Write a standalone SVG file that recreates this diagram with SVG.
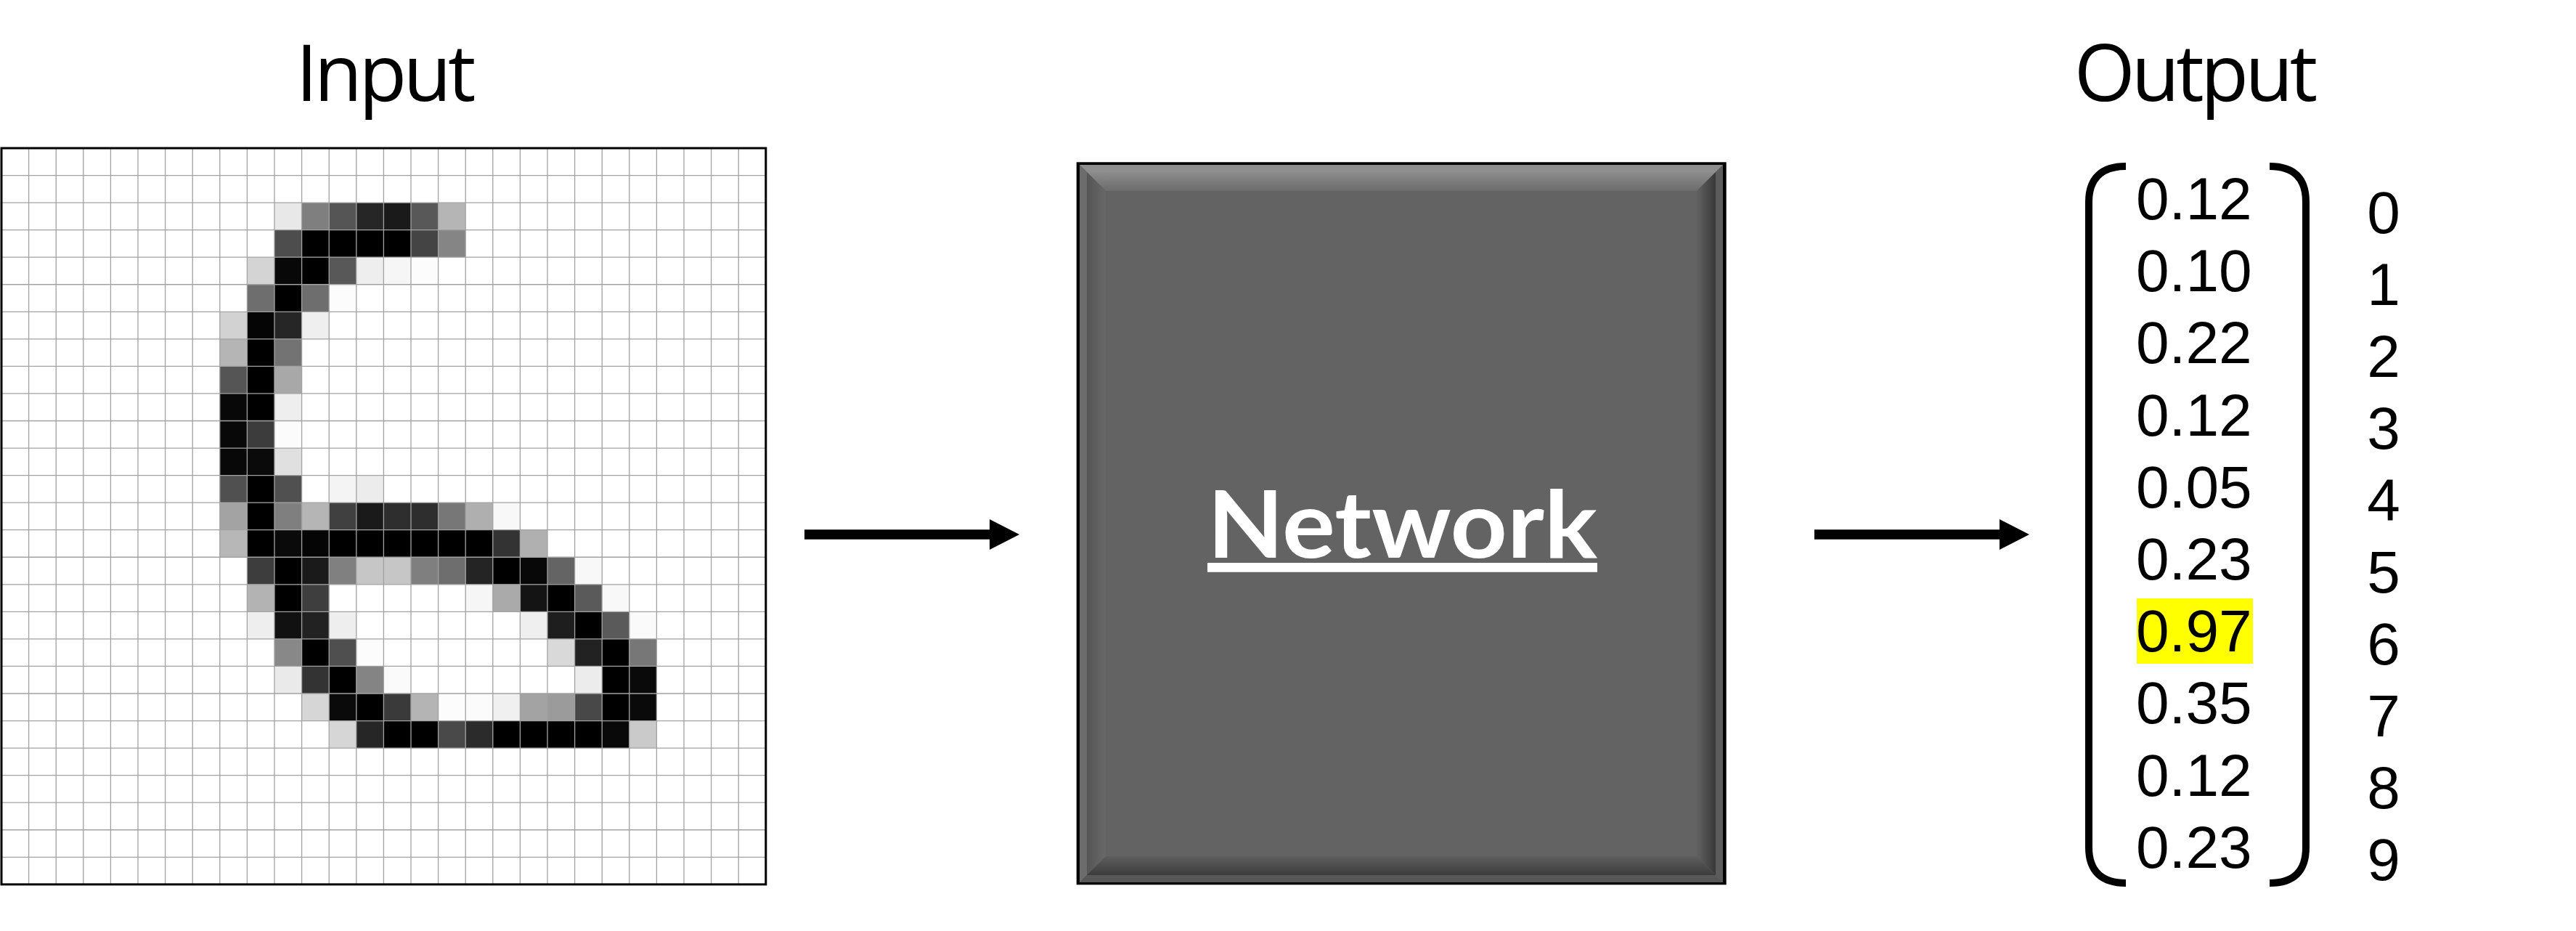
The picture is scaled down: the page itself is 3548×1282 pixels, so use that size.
<svg xmlns="http://www.w3.org/2000/svg" width="3548" height="1282" viewBox="0 0 3548 1282">
<style>
.title{font-family:"Open Sans","Noto Sans",sans-serif;font-size:108px;fill:#000;text-anchor:middle;letter-spacing:-4.8px}
.val{font-family:"Liberation Sans",Arial,sans-serif;font-size:82px;fill:#000}
.lab{font-family:"Liberation Sans",Arial,sans-serif;font-size:82px;fill:#000;text-anchor:middle}
.grid{fill:none;stroke:#a2a2a2;stroke-width:1.3}
.brk{fill:none;stroke:#000;stroke-width:10}
.conn{stroke:#000;stroke-width:13.5;fill:none}
</style>
<defs>
<marker id="ah" markerUnits="userSpaceOnUse" markerWidth="42" markerHeight="42" refX="0" refY="21" orient="auto" viewBox="0 0 42 42"><path d="M0,0 L41,21 L0,42 Z" fill="#000"/></marker>
<linearGradient id="gTop" x1="0" y1="0" x2="0" y2="1"><stop offset="0" stop-color="#8c8c8c"/><stop offset="1" stop-color="#6c6c6c"/></linearGradient>
<linearGradient id="gLeft" x1="0" y1="0" x2="1" y2="0"><stop offset="0" stop-color="#555"/><stop offset="1" stop-color="#686868"/></linearGradient>
<linearGradient id="gRight" x1="1" y1="0" x2="0" y2="0"><stop offset="0" stop-color="#383838"/><stop offset="1" stop-color="#626262"/></linearGradient>
<linearGradient id="gBot" x1="0" y1="1" x2="0" y2="0"><stop offset="0" stop-color="#3c3c3c"/><stop offset="1" stop-color="#5e5e5e"/></linearGradient>
</defs>
<rect width="3548" height="1282" fill="#fff"/>

<g id="input">
<text class="title" x="529" y="139">Input</text>
<g transform="translate(2,204) scale(37.6,37.55)">
<rect x="10" y="2" width="1" height="1" fill="#e8e8e8"/><rect x="11" y="2" width="1" height="1" fill="#7f7f7f"/><rect x="12" y="2" width="1" height="1" fill="#555"/><rect x="13" y="2" width="1" height="1" fill="#262626"/><rect x="14" y="2" width="1" height="1" fill="#1a1a1a"/><rect x="15" y="2" width="1" height="1" fill="#585858"/><rect x="16" y="2" width="1" height="1" fill="#b5b5b5"/>
<rect x="10" y="3" width="1" height="1" fill="#4d4d4d"/><rect x="11" y="3" width="4" height="1" fill="#000"/><rect x="15" y="3" width="1" height="1" fill="#444"/><rect x="16" y="3" width="1" height="1" fill="#858585"/>
<rect x="9" y="4" width="1" height="1" fill="#d4d4d4"/><rect x="10" y="4" width="1" height="1" fill="#080808"/><rect x="11" y="4" width="1" height="1" fill="#000"/><rect x="12" y="4" width="1" height="1" fill="#585858"/><rect x="13" y="4" width="1" height="1" fill="#eee"/><rect x="14" y="4" width="1" height="1" fill="#f6f6f6"/><rect x="15" y="4" width="1" height="1" fill="#fcfcfc"/>
<rect x="9" y="5" width="1" height="1" fill="#6e6e6e"/><rect x="10" y="5" width="1" height="1" fill="#000"/><rect x="11" y="5" width="1" height="1" fill="#6e6e6e"/><rect x="12" y="5" width="1" height="1" fill="#fcfcfc"/>
<rect x="8" y="6" width="1" height="1" fill="#d2d2d2"/><rect x="9" y="6" width="1" height="1" fill="#050505"/><rect x="10" y="6" width="1" height="1" fill="#262626"/><rect x="11" y="6" width="1" height="1" fill="#efefef"/>
<rect x="8" y="7" width="1" height="1" fill="#b5b5b5"/><rect x="9" y="7" width="1" height="1" fill="#000"/><rect x="10" y="7" width="1" height="1" fill="#737373"/>
<rect x="8" y="8" width="1" height="1" fill="#555"/><rect x="9" y="8" width="1" height="1" fill="#000"/><rect x="10" y="8" width="1" height="1" fill="#a8a8a8"/>
<rect x="8" y="9" width="1" height="1" fill="#080808"/><rect x="9" y="9" width="1" height="1" fill="#000"/><rect x="10" y="9" width="1" height="1" fill="#eee"/>
<rect x="8" y="10" width="1" height="1" fill="#080808"/><rect x="9" y="10" width="1" height="1" fill="#3c3c3c"/><rect x="10" y="10" width="1" height="1" fill="#fbfbfb"/>
<rect x="8" y="11" width="1" height="1" fill="#080808"/><rect x="9" y="11" width="1" height="1" fill="#0a0a0a"/><rect x="10" y="11" width="1" height="1" fill="#e0e0e0"/>
<rect x="8" y="12" width="1" height="1" fill="#505050"/><rect x="9" y="12" width="1" height="1" fill="#000"/><rect x="10" y="12" width="1" height="1" fill="#505050"/><rect x="12" y="12" width="1" height="1" fill="#f4f4f4"/><rect x="13" y="12" width="1" height="1" fill="#ececec"/>
<rect x="8" y="13" width="1" height="1" fill="#a3a3a3"/><rect x="9" y="13" width="1" height="1" fill="#000"/><rect x="10" y="13" width="1" height="1" fill="#7f7f7f"/><rect x="11" y="13" width="1" height="1" fill="#b5b5b5"/><rect x="12" y="13" width="1" height="1" fill="#404040"/><rect x="13" y="13" width="1" height="1" fill="#1a1a1a"/><rect x="14" y="13" width="2" height="1" fill="#2e2e2e"/><rect x="16" y="13" width="1" height="1" fill="#777"/><rect x="17" y="13" width="1" height="1" fill="#afafaf"/><rect x="18" y="13" width="1" height="1" fill="#f8f8f8"/>
<rect x="8" y="14" width="1" height="1" fill="#b7b7b7"/><rect x="9" y="14" width="1" height="1" fill="#000"/><rect x="10" y="14" width="1" height="1" fill="#0a0a0a"/><rect x="11" y="14" width="1" height="1" fill="#050505"/><rect x="12" y="14" width="6" height="1" fill="#000"/><rect x="18" y="14" width="1" height="1" fill="#333"/><rect x="19" y="14" width="1" height="1" fill="#b0b0b0"/>
<rect x="9" y="15" width="1" height="1" fill="#3d3d3d"/><rect x="10" y="15" width="1" height="1" fill="#000"/><rect x="11" y="15" width="1" height="1" fill="#1a1a1a"/><rect x="12" y="15" width="1" height="1" fill="#808080"/><rect x="13" y="15" width="2" height="1" fill="#c6c6c6"/><rect x="15" y="15" width="1" height="1" fill="#7f7f7f"/><rect x="16" y="15" width="1" height="1" fill="#6e6e6e"/><rect x="17" y="15" width="1" height="1" fill="#242424"/><rect x="18" y="15" width="1" height="1" fill="#000"/><rect x="19" y="15" width="1" height="1" fill="#080808"/><rect x="20" y="15" width="1" height="1" fill="#646464"/><rect x="21" y="15" width="1" height="1" fill="#f8f8f8"/>
<rect x="9" y="16" width="1" height="1" fill="#b3b3b3"/><rect x="10" y="16" width="1" height="1" fill="#000"/><rect x="11" y="16" width="1" height="1" fill="#3e3e3e"/><rect x="17" y="16" width="1" height="1" fill="#f6f6f6"/><rect x="18" y="16" width="1" height="1" fill="#aaa"/><rect x="19" y="16" width="1" height="1" fill="#141414"/><rect x="20" y="16" width="1" height="1" fill="#000"/><rect x="21" y="16" width="1" height="1" fill="#5a5a5a"/><rect x="22" y="16" width="1" height="1" fill="#f8f8f8"/>
<rect x="9" y="17" width="1" height="1" fill="#eee"/><rect x="10" y="17" width="1" height="1" fill="#111"/><rect x="11" y="17" width="1" height="1" fill="#222"/><rect x="12" y="17" width="1" height="1" fill="#eee"/><rect x="19" y="17" width="1" height="1" fill="#efefef"/><rect x="20" y="17" width="1" height="1" fill="#1e1e1e"/><rect x="21" y="17" width="1" height="1" fill="#000"/><rect x="22" y="17" width="1" height="1" fill="#5a5a5a"/><rect x="23" y="17" width="1" height="1" fill="#fafafa"/>
<rect x="10" y="18" width="1" height="1" fill="#888"/><rect x="11" y="18" width="1" height="1" fill="#000"/><rect x="12" y="18" width="1" height="1" fill="#4f4f4f"/><rect x="13" y="18" width="1" height="1" fill="#fcfcfc"/><rect x="20" y="18" width="1" height="1" fill="#d9d9d9"/><rect x="21" y="18" width="1" height="1" fill="#222"/><rect x="22" y="18" width="1" height="1" fill="#000"/><rect x="23" y="18" width="1" height="1" fill="#777"/>
<rect x="10" y="19" width="1" height="1" fill="#eaeaea"/><rect x="11" y="19" width="1" height="1" fill="#333"/><rect x="12" y="19" width="1" height="1" fill="#000"/><rect x="13" y="19" width="1" height="1" fill="#848484"/><rect x="14" y="19" width="1" height="1" fill="#fafafa"/><rect x="21" y="19" width="1" height="1" fill="#ececec"/><rect x="22" y="19" width="1" height="1" fill="#000"/><rect x="23" y="19" width="1" height="1" fill="#0a0a0a"/>
<rect x="11" y="20" width="1" height="1" fill="#d6d6d6"/><rect x="12" y="20" width="1" height="1" fill="#0a0a0a"/><rect x="13" y="20" width="1" height="1" fill="#000"/><rect x="14" y="20" width="1" height="1" fill="#3a3a3a"/><rect x="15" y="20" width="1" height="1" fill="#b4b4b4"/><rect x="16" y="20" width="1" height="1" fill="#fcfcfc"/><rect x="17" y="20" width="1" height="1" fill="#fbfbfb"/><rect x="18" y="20" width="1" height="1" fill="#f0f0f0"/><rect x="19" y="20" width="1" height="1" fill="#a3a3a3"/><rect x="20" y="20" width="1" height="1" fill="#9b9b9b"/><rect x="21" y="20" width="1" height="1" fill="#484848"/><rect x="22" y="20" width="1" height="1" fill="#000"/><rect x="23" y="20" width="1" height="1" fill="#0a0a0a"/>
<rect x="12" y="21" width="1" height="1" fill="#d6d6d6"/><rect x="13" y="21" width="1" height="1" fill="#262626"/><rect x="14" y="21" width="2" height="1" fill="#000"/><rect x="16" y="21" width="1" height="1" fill="#494949"/><rect x="17" y="21" width="1" height="1" fill="#2b2b2b"/><rect x="18" y="21" width="4" height="1" fill="#000"/><rect x="22" y="21" width="1" height="1" fill="#090909"/><rect x="23" y="21" width="1" height="1" fill="#cacaca"/>
<path class="grid" vector-effect="non-scaling-stroke" d="M1,0V27M2,0V27M3,0V27M4,0V27M5,0V27M6,0V27M7,0V27M8,0V27M9,0V27M10,0V27M11,0V27M12,0V27M13,0V27M14,0V27M15,0V27M16,0V27M17,0V27M18,0V27M19,0V27M20,0V27M21,0V27M22,0V27M23,0V27M24,0V27M25,0V27M26,0V27M27,0V27M0,1H28M0,2H28M0,3H28M0,4H28M0,5H28M0,6H28M0,7H28M0,8H28M0,9H28M0,10H28M0,11H28M0,12H28M0,13H28M0,14H28M0,15H28M0,16H28M0,17H28M0,18H28M0,19H28M0,20H28M0,21H28M0,22H28M0,23H28M0,24H28M0,25H28M0,26H28"/>
</g>
<rect x="2" y="204" width="1052.8" height="1013.85" fill="none" stroke="#000" stroke-width="3"/>
</g>

<g id="network">
<rect x="1482.7" y="223.3" width="895" height="995" fill="#000"/>
<rect x="1487" y="227" width="886" height="988" fill="#636363"/>
<polygon points="1487,227 2373,227 2363,237 1497,237" fill="#8e8e8e"/>
<polygon points="1497,237 2363,237 2337,263 1523,263" fill="url(#gTop)"/>
<polygon points="1487,227 1497,237 1497,1205 1487,1215" fill="#6c6c6c"/>
<polygon points="1497,237 1523,263 1523,1179 1497,1205" fill="url(#gLeft)"/>
<polygon points="2373,227 2373,1215 2363,1205 2363,237" fill="#5c5c5c"/>
<polygon points="2363,237 2363,1205 2337,1179 2337,263" fill="url(#gRight)"/>
<polygon points="1487,1215 2373,1215 2363,1205 1497,1205" fill="#575757"/>
<polygon points="1497,1205 2363,1205 2337,1179 1523,1179" fill="url(#gBot)"/>
<text x="1931.5" y="768" font-family="Lato,'Open Sans',sans-serif" font-weight="bold" font-size="128" fill="#fff" text-anchor="middle" text-decoration="underline" textLength="537" lengthAdjust="spacingAndGlyphs">Network</text>
</g>

<g id="output">
<text class="title" x="3022" y="139">Output</text>
<path class="brk" d="M2928,229 C2895,229 2877,245 2877,278 V1167 C2877,1200 2895,1216 2928,1216"/>
<path class="brk" d="M3126,229 C3159,229 3176,245 3176,278 V1167 C3176,1200 3159,1216 3126,1216"/>
<rect x="2943" y="824" width="160" height="90" fill="#ffff00"/>
<text class="val" x="2942" y="302">0.12</text>
<text class="val" x="2942" y="401">0.10</text>
<text class="val" x="2942" y="500">0.22</text>
<text class="val" x="2942" y="600">0.12</text>
<text class="val" x="2942" y="699">0.05</text>
<text class="val" x="2942" y="798">0.23</text>
<text class="val" x="2942" y="897">0.97</text>
<text class="val" x="2942" y="996">0.35</text>
<text class="val" x="2942" y="1096">0.12</text>
<text class="val" x="2942" y="1195">0.23</text>
<text class="lab" x="3283" y="321">0</text>
<text class="lab" x="3283" y="420">1</text>
<text class="lab" x="3283" y="519">2</text>
<text class="lab" x="3283" y="618">3</text>
<text class="lab" x="3283" y="717">4</text>
<text class="lab" x="3283" y="816">5</text>
<text class="lab" x="3283" y="915">6</text>
<text class="lab" x="3283" y="1014">7</text>
<text class="lab" x="3283" y="1113">8</text>
<text class="lab" x="3283" y="1212">9</text>
</g>

<g id="connectors">
<line class="conn" x1="1108" y1="736" x2="1363" y2="736" marker-end="url(#ah)"/>
<line class="conn" x1="2499" y1="736" x2="2754" y2="736" marker-end="url(#ah)"/>
</g>
</svg>
